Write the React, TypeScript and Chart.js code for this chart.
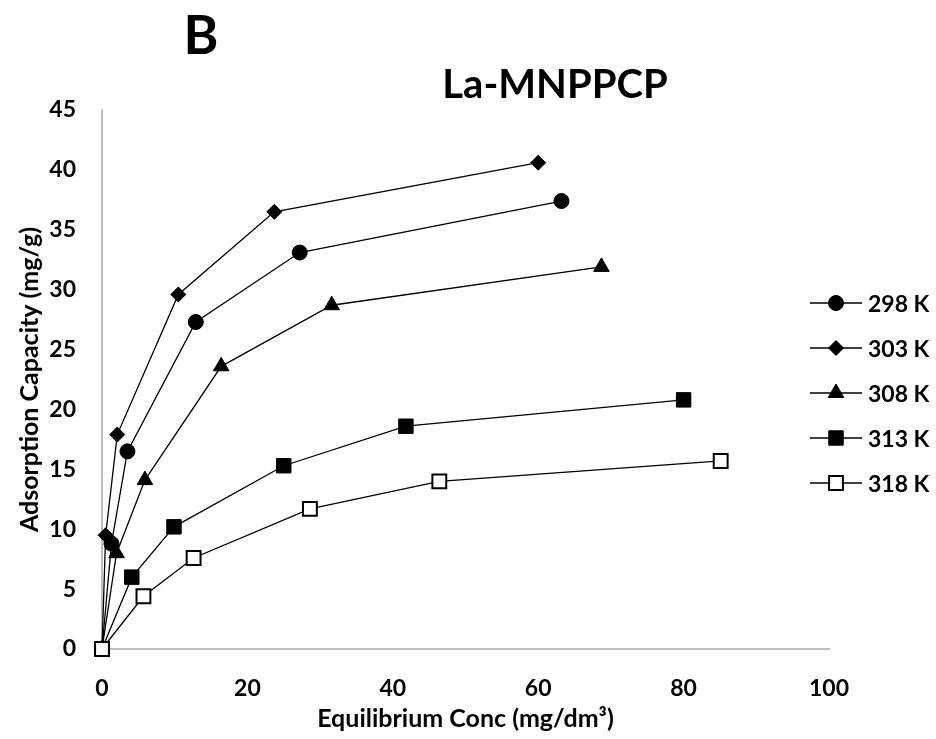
import React, { useEffect, useRef } from "react";
import { Chart, registerables } from "chart.js";

Chart.register(...registerables);

const seriesLabels = ["298 K", "303 K", "308 K", "313 K", "318 K"];

const x298 = [0, 1.3, 3.5, 12.9, 27.2, 63.2];
const y298 = [0, 8.8, 16.5, 27.3, 33.1, 37.4];

const x303 = [0, 0.5, 2.1, 10.5, 23.7, 60.0];
const y303 = [0, 9.5, 17.9, 29.6, 36.5, 40.6];

const x308 = [0, 2.0, 5.9, 16.4, 31.6, 68.7];
const y308 = [0, 8.0, 14.1, 23.6, 28.7, 31.9];

const x313 = [0, 4.1, 9.9, 25.0, 41.8, 80.0];
const y313 = [0, 6.0, 10.2, 15.3, 18.6, 20.8];

const x318 = [0, 5.7, 12.6, 28.6, 46.4, 85.1];
const y318 = [0, 4.4, 7.6, 11.7, 14.0, 15.7];

const xTicks = [0, 20, 40, 60, 80, 100];
const yTicks = [0, 5, 10, 15, 20, 25, 30, 35, 40, 45];

const chartTitle = "La-MNPPCP";
const panelLetter = "B";
const xTitle = "Equilibrium Conc (mg/dm\u00B3)";
const yTitle = "Adsorption Capacity (mg/g)";

const FONT = "Lato";

const toPts = (xs: number[], ys: number[]) => xs.map((x, i) => ({ x, y: ys[i] }));

const styles = [
  { pointStyle: "circle", radius: 7.5, bg: "#000000", bw: 1 },
  { pointStyle: "rectRot", radius: 7.5, bg: "#000000", bw: 1 },
  { pointStyle: "triangle", radius: 9, bg: "#000000", bw: 1 },
  { pointStyle: "rect", radius: 10.2, bg: "#000000", bw: 1 },
  { pointStyle: "rect", radius: 9.8, bg: "#ffffff", bw: 2 },
];

function drawMarker(ctx: CanvasRenderingContext2D, style: string, r: number, x: number, y: number) {
  ctx.beginPath();
  if (style === "circle") {
    ctx.arc(x, y, r, 0, Math.PI * 2);
  } else if (style === "rectRot") {
    ctx.moveTo(x, y - r);
    ctx.lineTo(x + r, y);
    ctx.lineTo(x, y + r);
    ctx.lineTo(x - r, y);
    ctx.closePath();
  } else if (style === "triangle") {
    ctx.moveTo(x, y - r);
    ctx.lineTo(x + r * Math.sin(Math.PI / 3), y + r * 0.5);
    ctx.lineTo(x - r * Math.sin(Math.PI / 3), y + r * 0.5);
    ctx.closePath();
  } else {
    const s = Math.SQRT1_2 * r;
    ctx.rect(x - s, y - s, 2 * s, 2 * s);
  }
  ctx.fill();
  ctx.stroke();
}

const overlayPlugin = {
  id: "overlay",
  afterDraw(chart: any) {
    const ctx = chart.ctx as CanvasRenderingContext2D;
    ctx.save();
    ctx.fillStyle = "#000";
    ctx.textAlign = "center";
    ctx.textBaseline = "alphabetic";
    ctx.font = `bold 53px ${FONT}`;
    ctx.fillText(panelLetter, 201, 54);
    ctx.font = `bold 40px ${FONT}`;
    ctx.fillText(chartTitle, 555, 98);

    const legendTop = 303;
    const legendStep = 45;
    chart.data.datasets.forEach((ds: any, i: number) => {
      const cy = legendTop + i * legendStep;
      ctx.strokeStyle = "#000";
      ctx.lineWidth = 1.3;
      ctx.beginPath();
      ctx.moveTo(810, cy);
      ctx.lineTo(862, cy);
      ctx.stroke();
      ctx.lineWidth = ds.pointBorderWidth;
      ctx.strokeStyle = "#000";
      ctx.fillStyle = ds.pointBackgroundColor;
      drawMarker(ctx, ds.pointStyle, ds.pointRadius, 836, cy);
      ctx.fillStyle = "#000";
      ctx.textAlign = "left";
      ctx.font = `bold 23px ${FONT}`;
      ctx.fillText(ds.label, 868, cy + 8.5);
    });
    ctx.restore();
  },
};

export default function App() {
  const ref = useRef<HTMLCanvasElement | null>(null);

  useEffect(() => {
    if (!ref.current) return;
    const data = [
      toPts(x298, y298),
      toPts(x303, y303),
      toPts(x308, y308),
      toPts(x313, y313),
      toPts(x318, y318),
    ];
    const chart = new Chart(ref.current, {
      type: "scatter",
      data: {
        datasets: data.map((d, i) => ({
          label: seriesLabels[i],
          data: d,
          showLine: true,
          borderColor: "#000000",
          borderWidth: 1.3,
          tension: 0,
          pointStyle: styles[i].pointStyle as any,
          pointRadius: styles[i].radius,
          pointHoverRadius: styles[i].radius,
          pointBackgroundColor: styles[i].bg,
          pointBorderColor: "#000000",
          pointBorderWidth: styles[i].bw,
          clip: false as any,
          order: 4 - i,
        })),
      },
      options: {
        responsive: false,
        animation: false,
        devicePixelRatio: 1,
        layout: { padding: { top: 110, right: 107, left: 0, bottom: 0 } },
        plugins: {
          legend: { display: false },
          tooltip: { enabled: false },
          title: { display: false },
        },
        scales: {
          x: {
            type: "linear",
            min: 0,
            max: 100,
            afterBuildTicks: (s: any) => {
              s.ticks = xTicks.map((v) => ({ value: v }));
            },
            afterFit: (s: any) => {
              s.height = 90;
            },
            grid: { display: false, drawTicks: false },
            border: { display: true, color: "#bfbfbf", width: 2 },
            ticks: {
              color: "#000",
              font: { family: FONT, size: 23, weight: "bold" },
              padding: 26,
              maxRotation: 0,
            },
            title: {
              display: true,
              text: xTitle,
              color: "#000",
              font: { family: FONT, size: 25, weight: "bold" },
              padding: { top: 0, bottom: 5 },
            },
          },
          y: {
            type: "linear",
            min: 0,
            max: 45,
            afterBuildTicks: (s: any) => {
              s.ticks = yTicks.map((v) => ({ value: v }));
            },
            afterFit: (s: any) => {
              s.width = 102;
            },
            grid: { display: false, drawTicks: false },
            border: { display: true, color: "#bfbfbf", width: 2 },
            ticks: {
              color: "#000",
              font: { family: FONT, size: 23, weight: "bold" },
              padding: 26,
            },
            title: {
              display: true,
              text: yTitle,
              color: "#000",
              font: { family: FONT, size: 25, weight: "bold" },
              padding: { top: 15, bottom: 0 },
            },
          },
        },
      },
      plugins: [overlayPlugin],
    });
    return () => chart.destroy();
  }, []);

  return (
    <div style={{ position: "absolute", left: 0, top: 0, width: 936, height: 739, background: "#fff" }}>
      <canvas ref={ref} width={936} height={739} />
    </div>
  );
}
